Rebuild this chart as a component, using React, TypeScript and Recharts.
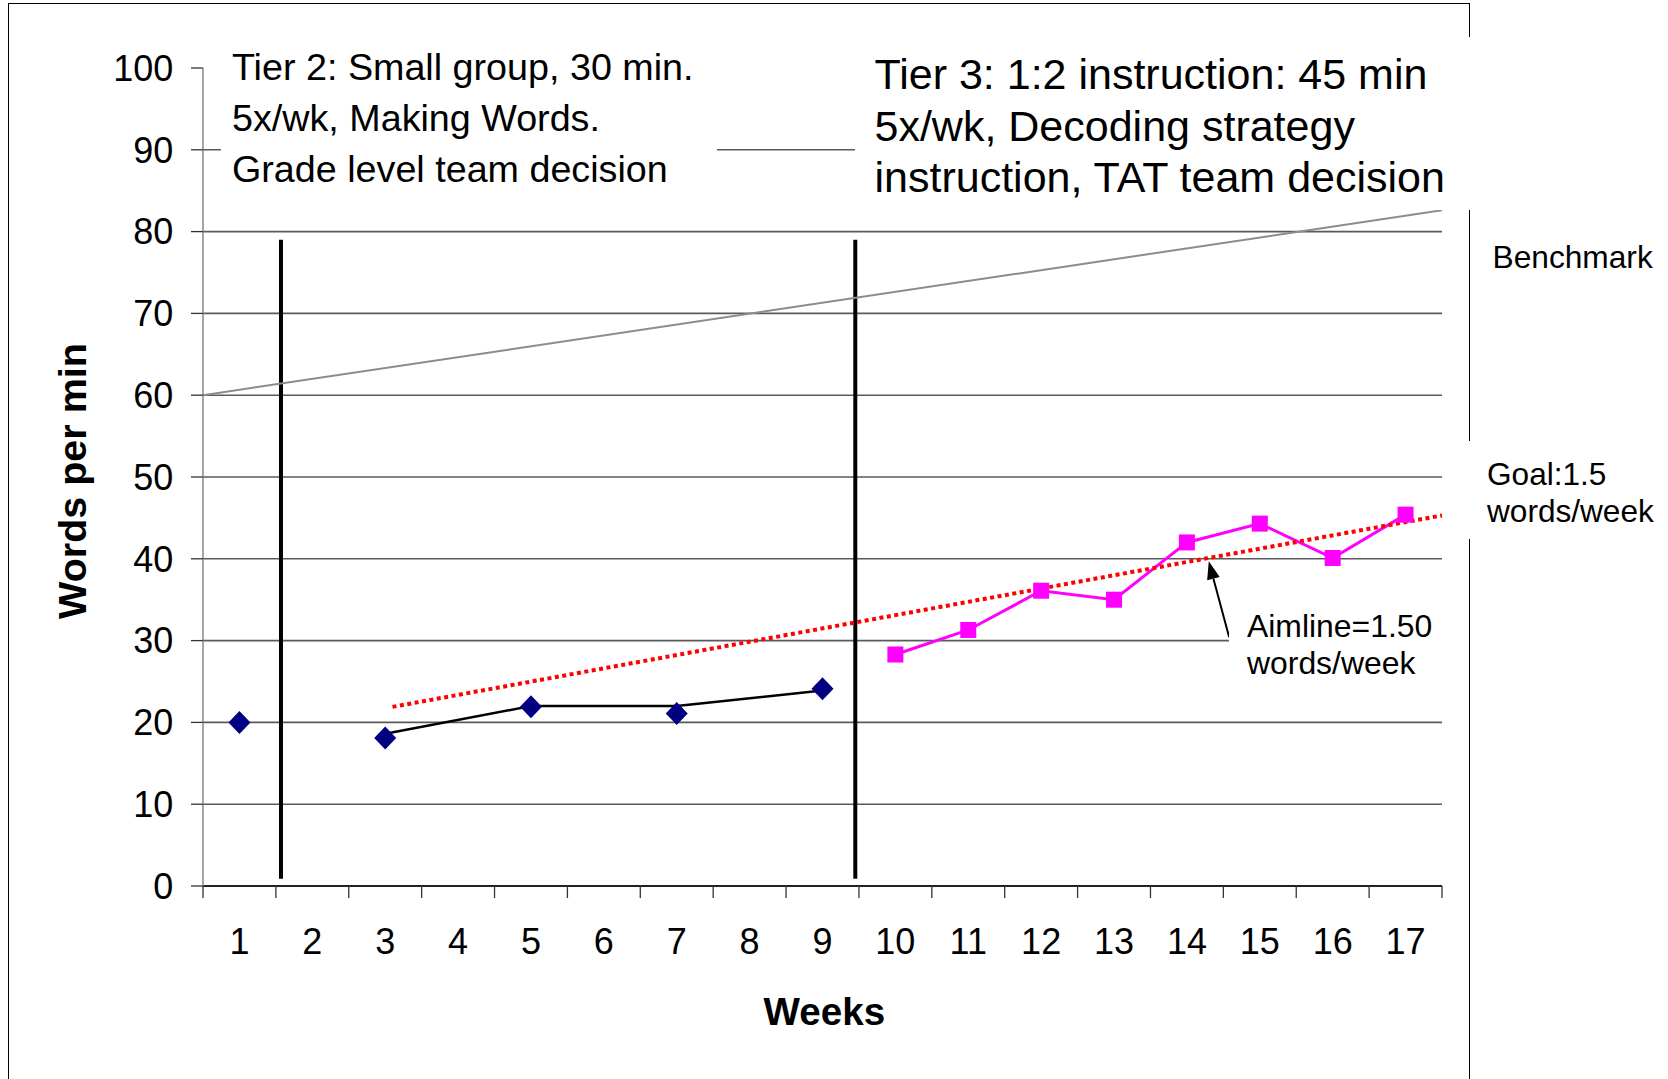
import React from 'react';
import { ComposedChart, Line, XAxis, YAxis, CartesianGrid, ReferenceLine } from 'recharts';

// ---- data ----
const weekTicks = [1, 2, 3, 4, 5, 6, 7, 8, 9, 10, 11, 12, 13, 14, 15, 16, 17];
const weekBoundaries = [0.5, 1.5, 2.5, 3.5, 4.5, 5.5, 6.5, 7.5, 8.5, 9.5, 10.5, 11.5, 12.5, 13.5, 14.5, 15.5, 16.5, 17.5];
const yTicks = [0, 10, 20, 30, 40, 50, 60, 70, 80, 90, 100];
const gridValues = [10, 20, 30, 40, 50, 60, 70, 80, 90];

const tier2Weeks = [1, 3, 5, 7, 9];
const tier2Scores = [20, 18.1, 21.9, 21.1, 24.1];

const trendWeeks = [3, 5, 7, 9];
const trendScores = [18.6, 22.0, 22.0, 23.9];

const tier3Weeks = [10, 11, 12, 13, 14, 15, 16, 17];
const tier3Scores = [28.3, 31.3, 36.1, 35.0, 42.0, 44.3, 40.1, 45.4];

const aimlineWeeks = [3.1, 17.5];
const aimlineScores = [21.9, 45.3];

const benchmarkWeeks = [0.5, 17.5];
const benchmarkScores = [60, 82.6];

const phaseChangeWeeks = [1.57, 9.45];
const phaseLineScores = [0.9, 79];

const arrowWeeks = [14.58, 14.3];
const arrowScores = [30.4, 39.7];

const zip = (xs: number[], ys: number[]) => xs.map((w, i) => ({ week: w, value: ys[i] }));

const tier2Data = zip(tier2Weeks, tier2Scores);
const trendData = zip(trendWeeks, trendScores);
const tier3Data = zip(tier3Weeks, tier3Scores);
const aimlineData = zip(aimlineWeeks, aimlineScores);
const benchmarkData = zip(benchmarkWeeks, benchmarkScores);

const FONT = '"Liberation Sans", Arial, Helvetica, sans-serif';

const Diamond = (props: any) => {
  const { cx, cy } = props;
  if (cx == null || cy == null) return null;
  const w = 11, h = 11.5;
  return <polygon points={`${cx},${cy - h} ${cx + w},${cy} ${cx},${cy + h} ${cx - w},${cy}`} fill="#000080" />;
};

const Square = (props: any) => {
  const { cx, cy } = props;
  if (cx == null || cy == null) return null;
  const s = 16;
  return <rect x={cx - s / 2} y={cy - s / 2} width={s} height={s} fill="#FF00FF" />;
};

const EmptyTick = () => <g />;

const ArrowShape = (props: any) => {
  const { x1, y1, x2, y2 } = props;
  const ang = Math.atan2(y2 - y1, x2 - x1);
  const len = 18, half = 6.5;
  const bx = x2 - len * Math.cos(ang);
  const by = y2 - len * Math.sin(ang);
  const p1x = bx + half * Math.sin(ang), p1y = by - half * Math.cos(ang);
  const p2x = bx - half * Math.sin(ang), p2y = by + half * Math.cos(ang);
  return (
    <g>
      <line x1={x1} y1={y1} x2={bx} y2={by} stroke="#000" strokeWidth={2} />
      <polygon points={`${x2},${y2} ${p1x},${p1y} ${p2x},${p2y}`} fill="#000" />
    </g>
  );
};

const box = (s: React.CSSProperties): React.CSSProperties => ({
  position: 'absolute',
  background: '#fff',
  color: '#000',
  whiteSpace: 'nowrap',
  boxSizing: 'border-box',
  ...s,
});

export default function App() {
  return (
    <div
      style={{
        position: 'absolute',
        left: 0,
        top: 0,
        width: 1668,
        height: 1079,
        background: '#fff',
        overflow: 'hidden',
        fontFamily: FONT,
      }}
    >
      {/* outer frame */}
      <div
        style={{
          position: 'absolute',
          left: 8,
          top: 3,
          width: 1462,
          height: 1100,
          border: '1.5px solid #000',
          boxSizing: 'border-box',
        }}
      />
      <div style={{ position: 'absolute', left: 0, top: 0 }}>
        <ComposedChart
          width={1668}
          height={1079}
          margin={{ top: 68, right: 226, bottom: 0, left: 0 }}
          style={{ fontFamily: FONT }}
        >
          <CartesianGrid
            xAxisId="main"
            vertical={false}
            horizontalValues={gridValues}
            stroke="#5a5a5a"
            strokeWidth={1.6}
          />
          <XAxis
            xAxisId="bound"
            type="number"
            dataKey="week"
            domain={[0.5, 17.5]}
            allowDataOverflow
            ticks={weekBoundaries}
            interval={0}
            tick={EmptyTick}
            tickSize={12}
            stroke="#333"
            tickLine={{ stroke: '#333', strokeWidth: 1.3 }}
            axisLine={{ stroke: '#222', strokeWidth: 2 }}
            height={14}
          />
          <XAxis
            xAxisId="main"
            type="number"
            dataKey="week"
            domain={[0.5, 17.5]}
            ticks={weekTicks}
            interval={0}
            tickLine={false}
            axisLine={false}
            tickSize={0}
            tickMargin={28}
            tick={{ fontSize: 36, fill: '#000' }}
            height={179}
          />
          <YAxis
            type="number"
            domain={[0, 100]}
            ticks={yTicks}
            interval={0}
            width={203}
            tickSize={12}
            tickMargin={17.6}
            tick={{ fontSize: 36, fill: '#000' }}
            tickLine={{ stroke: '#333', strokeWidth: 1.3 }}
            axisLine={{ stroke: '#888', strokeWidth: 1.5 }}
          />
          {phaseChangeWeeks.map((w) => (
            <ReferenceLine
              key={w}
              xAxisId="main"
              segment={[
                { x: w, y: phaseLineScores[0] },
                { x: w, y: phaseLineScores[1] },
              ]}
              stroke="#000"
              strokeWidth={4}
            />
          ))}
          <Line
            xAxisId="bound"
            data={benchmarkData}
            dataKey="value"
            stroke="#8c8c8c"
            strokeWidth={2}
            dot={false}
            activeDot={false}
            isAnimationActive={false}
          />
          <Line
            xAxisId="main"
            data={trendData}
            dataKey="value"
            stroke="#000"
            strokeWidth={2.5}
            dot={false}
            activeDot={false}
            isAnimationActive={false}
          />
          <Line
            xAxisId="main"
            data={tier2Data}
            dataKey="value"
            stroke="none"
            dot={<Diamond />}
            activeDot={false}
            isAnimationActive={false}
          />
          <Line
            xAxisId="main"
            data={tier3Data}
            dataKey="value"
            stroke="#FF00FF"
            strokeWidth={3}
            dot={<Square />}
            activeDot={false}
            isAnimationActive={false}
          />
          <Line
            xAxisId="main"
            data={aimlineData}
            dataKey="value"
            stroke="#FF0000"
            strokeWidth={4}
            strokeDasharray="4 3.5"
            dot={false}
            activeDot={false}
            isAnimationActive={false}
          />
          <ReferenceLine
            xAxisId="main"
            segment={[
              { x: arrowWeeks[0], y: arrowScores[0] },
              { x: arrowWeeks[1], y: arrowScores[1] },
            ]}
            shape={ArrowShape}
          />
        </ComposedChart>
      </div>

      {/* Text boxes (white-filled, like the original annotations) */}
      <div style={box({ left: 221, top: 40, width: 496, height: 157, paddingTop: 1.5, paddingLeft: 11, fontSize: 37.7, lineHeight: '51px' })}>
        <div>Tier 2: Small group, 30 min.</div>
        <div>5x/wk, Making Words.</div>
        <div>Grade level team decision</div>
      </div>
      <div style={box({ left: 855, top: 37, width: 625, height: 173, paddingTop: 12, paddingLeft: 19.5, fontSize: 43, lineHeight: '51.6px' })}>
        <div>Tier 3: 1:2 instruction: 45 min</div>
        <div>5x/wk, Decoding strategy</div>
        <div>instruction, TAT team decision</div>
      </div>
      <div style={box({ left: 1492.5, top: 239.3, fontSize: 31.7, lineHeight: '37px', background: 'transparent' })}>
        Benchmark
      </div>
      <div style={box({ left: 1460, top: 441, width: 208, height: 98, paddingTop: 15.2, paddingLeft: 27, fontSize: 31.6, lineHeight: '37.2px' })}>
        <div>Goal:1.5</div>
        <div>words/week</div>
      </div>
      <div style={box({ left: 1229, top: 600, width: 216, height: 90, paddingTop: 7.8, paddingLeft: 18, fontSize: 31.9, lineHeight: '37px' })}>
        <div>Aimline=1.50</div>
        <div>words/week</div>
      </div>

      {/* axis titles */}
      <div
        style={{
          position: 'absolute',
          left: 72 - 200,
          top: 481 - 25,
          width: 400,
          height: 50,
          lineHeight: '50px',
          textAlign: 'center',
          fontSize: 39.5,
          fontWeight: 'bold',
          transform: 'rotate(-90deg)',
          transformOrigin: '50% 50%',
          whiteSpace: 'nowrap',
        }}
      >
        Words per min
      </div>
      <div
        style={{
          position: 'absolute',
          left: 824.4 - 200,
          top: 987.1,
          width: 400,
          lineHeight: '50px',
          textAlign: 'center',
          fontSize: 38.6,
          fontWeight: 'bold',
          whiteSpace: 'nowrap',
        }}
      >
        Weeks
      </div>
    </div>
  );
}
